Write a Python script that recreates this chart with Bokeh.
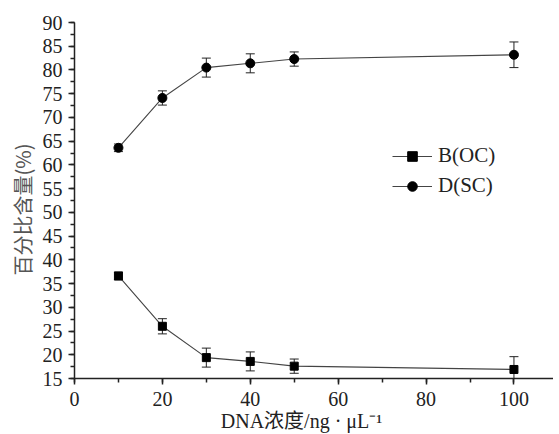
import math
from bokeh.plotting import figure
from bokeh.models import (Range1d, Whisker, ColumnDataSource, Legend, LegendItem,
                          Title, SingleIntervalTicker)
from bokeh.embed import file_html
from bokeh.resources import INLINE

conc = [10, 20, 30, 40, 50, 100]
b_oc = [36.6, 26.0, 19.4, 18.6, 17.6, 16.9]
b_err = [0.8, 1.6, 2.0, 2.0, 1.5, 2.7]
d_sc = [63.6, 74.1, 80.5, 81.4, 82.3, 83.2]
d_err = [0.8, 1.5, 2.0, 2.0, 1.5, 2.7]
x_ticks = [0, 20, 40, 60, 80, 100]

SERIF = "Liberation Serif"
LINE = "#222222"

p = figure(width=553, height=434, output_backend="svg", toolbar_location=None,
           x_range=Range1d(0, 109), y_range=Range1d(15, 90),
           min_border_left=74, min_border_top=22, min_border_bottom=56, min_border_right=0)
p.outline_line_color = None
p.grid.visible = False
p.background_fill_color = "white"
p.border_fill_color = "white"

for ax in (p.xaxis[0], p.yaxis[0]):
    ax.axis_line_color = LINE
    ax.axis_line_width = 1.5
    ax.major_tick_line_color = LINE
    ax.minor_tick_line_color = LINE
    ax.major_tick_line_width = 1.5
    ax.minor_tick_line_width = 1.5
    ax.major_tick_in = 0
    ax.major_tick_out = 6
    ax.minor_tick_in = 0
    ax.minor_tick_out = 4
    ax.major_label_text_font = SERIF
    ax.major_label_text_font_size = "20px"
    ax.major_label_text_color = "#222222"

p.xaxis[0].ticker = SingleIntervalTicker(interval=20, num_minor_ticks=2)
p.yaxis[0].ticker = SingleIntervalTicker(interval=5, num_minor_ticks=2)
p.xaxis[0].major_label_standoff = 7
p.yaxis[0].major_label_standoff = 6
p.xaxis[0].major_label_overrides = {t: str(t) for t in x_ticks}

p.xaxis[0].axis_label = "DNA浓度/ng · μL⁻¹" + "\u00a0" * 5
p.xaxis[0].axis_label_text_font = "Liberation Serif, Noto Sans CJK SC"
p.xaxis[0].axis_label_text_font_size = "20px"
p.xaxis[0].axis_label_text_font_style = "normal"
p.xaxis[0].axis_label_text_color = "#222222"
p.xaxis[0].axis_label_standoff = 1

src_b = ColumnDataSource(dict(x=conc, y=b_oc, lo=[v - e for v, e in zip(b_oc, b_err)],
                              hi=[v + e for v, e in zip(b_oc, b_err)]))
src_d = ColumnDataSource(dict(x=conc, y=d_sc, lo=[v - e for v, e in zip(d_sc, d_err)],
                              hi=[v + e for v, e in zip(d_sc, d_err)]))

for src in (src_b, src_d):
    w = Whisker(base="x", lower="lo", upper="hi", source=src, line_color=LINE, line_width=1)
    w.upper_head.size = 9
    w.lower_head.size = 9
    w.upper_head.line_color = LINE
    w.lower_head.line_color = LINE
    p.add_layout(w)

lb = p.line("x", "y", source=src_b, line_color="#444444", line_width=1.1)
mb = p.scatter("x", "y", source=src_b, marker="square", size=8, fill_color="black", line_color="black")
ld = p.line("x", "y", source=src_d, line_color="#444444", line_width=1.1)
md = p.scatter("x", "y", source=src_d, marker="circle", size=9, fill_color="black", line_color="black")

legend = Legend(items=[LegendItem(label="B(OC)", renderers=[lb, mb]),
                       LegendItem(label="D(SC)", renderers=[ld, md])],
                location=(318, 180), border_line_color=None, background_fill_alpha=0,
                label_text_font=SERIF, label_text_font_size="21px", label_text_color="#222222",
                glyph_width=40, glyph_height=24, spacing=5, padding=0, margin=0,
                label_standoff=6)
p.add_layout(legend, "center")

ytitle = Title(text="百分比含量(%)", align="left", offset=103, standoff=6,
               text_font="Noto Sans CJK SC", text_font_size="20px", text_color="#555555",
               text_font_style="normal")
p.add_layout(ytitle, "left")

open("out.html", "w").write(file_html(p, INLINE))
